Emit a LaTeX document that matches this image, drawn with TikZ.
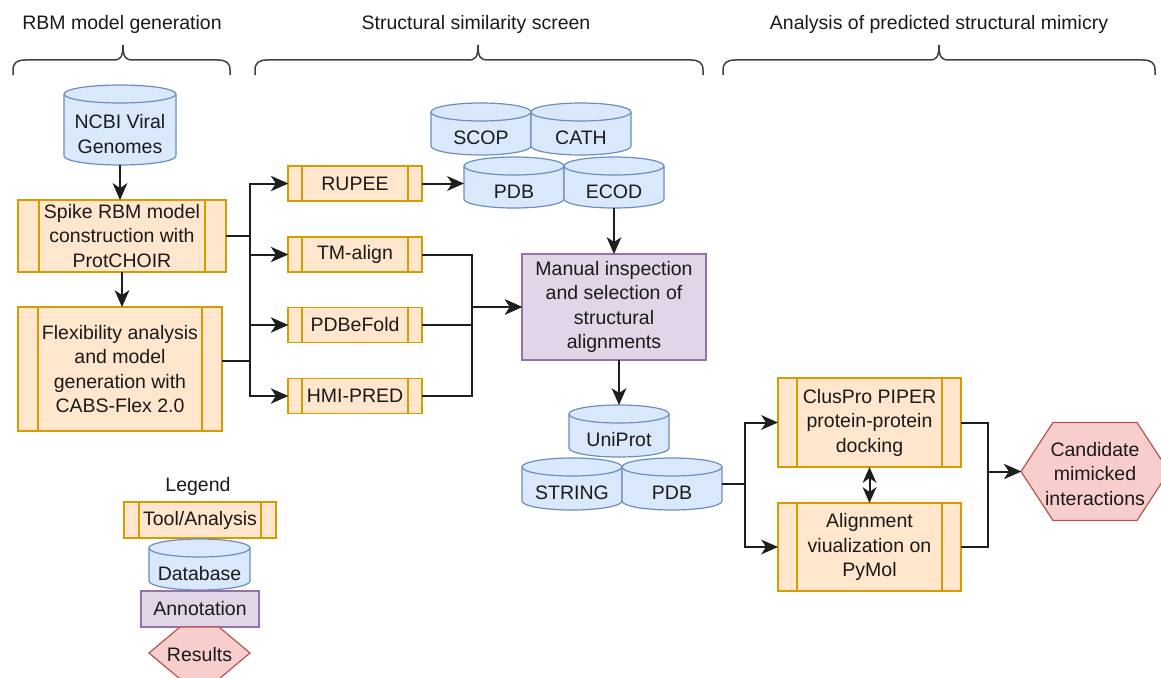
\documentclass[tikz,border=0pt]{standalone}
\usepackage{fontspec}
\setmainfont{Liberation Sans}
\usetikzlibrary{arrows.meta,calc}
\definecolor{tfill}{HTML}{FFE6CC}\definecolor{tdraw}{HTML}{D79B00}
\definecolor{dfill}{HTML}{DAE8FC}\definecolor{ddraw}{HTML}{6C8EBF}
\definecolor{afill}{HTML}{E1D5E7}\definecolor{adraw}{HTML}{9673A6}
\definecolor{rfill}{HTML}{F8CECC}\definecolor{rdraw}{HTML}{B85450}
\definecolor{txt}{HTML}{1A1A1A}
\definecolor{lnc}{HTML}{1E1E1E}
\tikzset{barw/.store in=\mybarw, barw=14}
\newcommand\dbcyl[6]{%
  \pgfmathsetmacro\cx{(#2+#4)/2}%
  \pgfmathsetmacro\cy{(#3+#5)/2}%
  \pgfmathsetmacro\rx{(#4-#2)/2}%
  \pgfmathsetmacro\hh{#5-#3}%
  \path[fill=dfill,draw=ddraw,line width=1.2pt] (#2,#3+9) -- (#2,#5-9)
    arc[start angle=180,end angle=360,x radius=\rx pt,y radius=9pt] -- (#4,#3+9)
    arc[start angle=0,end angle=180,x radius=\rx pt,y radius=9pt] -- cycle;
  \draw[ddraw,line width=1.2pt] (#2,#3+9) arc[start angle=180,end angle=360,x radius=\rx pt,y radius=9pt];
  \node[minimum width=2*\rx pt,minimum height=\hh pt] (#1) at (\cx,\cy) {};
  \node (#1-t) at (\cx,\cy+9) {#6};
}
\newcommand\curlybr[3]{%
  \draw[bracestyle] (#1,75) -- (#1,70) .. controls (#1,63) and (#1+4,60) .. (#1+12,60)
    -- (#2-10,60) .. controls (#2-3,60) and (#2,58) .. (#2,45)
    .. controls (#2,58) and (#2+3,60) .. (#2+10,60)
    -- (#3-12,60) .. controls (#3-4,60) and (#3,63) .. (#3,70) -- (#3,75);
}
\begin{document}
\begin{tikzpicture}[x=1pt,y=-1pt,
  font=\fontsize{19.5}{24.5}\selectfont,
  every node/.style={inner sep=0pt,outer sep=0pt,align=center,text=txt},
  toolbox/.style={rectangle,draw=tdraw,fill=tfill,line width=1.2pt,
    path picture={
      \draw[tdraw,line width=1.2pt] ([xshift=\mybarw pt]path picture bounding box.north west) -- ([xshift=\mybarw pt]path picture bounding box.south west);
      \draw[tdraw,line width=1.2pt] ([xshift=-\mybarw pt]path picture bounding box.north east) -- ([xshift=-\mybarw pt]path picture bounding box.south east);
    }},
  annot/.style={rectangle,draw=adraw,fill=afill,line width=1.2pt},
  resshape/.style={fill=rfill,draw=rdraw,line width=1.2pt},
  bracestyle/.style={draw=lnc!85,line width=1.5pt},
  conn/.style={draw=lnc,line width=2pt,-{Stealth[length=17pt,width=15pt,inset=5pt,line width=0pt]}},
  dconn/.style={draw=lnc,line width=2pt,{Stealth[length=16pt,width=14pt,inset=5pt,line width=0pt]}-{Stealth[length=16pt,width=14pt,inset=5pt,line width=0pt]}}
]
\useasboundingbox (0,0) rectangle (1161,677);
\clip (0,0) rectangle (1161,677);

% titles and braces
\node (t1) at (122,24) {RBM model generation};
\node (t2) at (476,24) {Structural similarity screen};
\node (t3) at (939,24) {Analysis of predicted structural mimicry};
\curlybr{13}{123}{230}
\curlybr{255}{478}{703}
\curlybr{723}{939}{1155}

% databases
\dbcyl{ncbi}{64}{85}{176}{165}{NCBI Viral\\Genomes}
\dbcyl{scop}{431}{103}{531}{155}{SCOP}
\dbcyl{cath}{531}{103}{631}{155}{CATH}
\dbcyl{pdb}{464}{157}{564}{208}{PDB}
\dbcyl{ecod}{564}{157}{664}{208}{ECOD}
\dbcyl{uniprot}{569}{405}{669}{457}{UniProt}
\dbcyl{string}{522}{458}{622}{510}{STRING}
\dbcyl{pdbb}{622}{458}{722}{510}{PDB}

% tools
\node[toolbox,barw=21,minimum width=208pt,minimum height=72pt] (spike) at (122,236) {Spike RBM model\\construction with\\ProtCHOIR};
\node[toolbox,barw=20,minimum width=204pt,minimum height=124pt] (flex) at (120,369) {Flexibility analysis\\and model\\generation with\\CABS-Flex 2.0};
\node[toolbox,minimum width=134pt,minimum height=35pt] (rupee) at (355,183.5) {RUPEE};
\node[toolbox,minimum width=134pt,minimum height=35pt] (tm) at (355,254.5) {TM-align};
\node[toolbox,minimum width=134pt,minimum height=35pt] (pdbe) at (355,325) {PDBeFold};
\node[toolbox,minimum width=134pt,minimum height=35pt] (hmi) at (355,396) {HMI-PRED};
\node[annot,minimum width=184pt,minimum height=106pt] (manual) at (614,307) {Manual inspection\\and selection of\\structural\\alignments};
\node[toolbox,barw=19,minimum width=183pt,minimum height=89pt] (cluspro) at (869.5,422.5) {ClusPro PIPER\\protein-protein\\docking};
\node[toolbox,barw=19,minimum width=183pt,minimum height=88pt] (align) at (869.5,547) {Alignment\\viualization on\\PyMol};

% result hexagon
\path[resshape] (1021,471.5) -- (1053,422.5) -- (1137,422.5) -- (1169,471.5) -- (1137,520.5) -- (1053,520.5) -- cycle;
\node[minimum width=148pt,minimum height=98pt] (hex) at (1095,471.5) {};
\node (hex-t) at (1095,474) {Candidate\\mimicked\\interactions};

% connectors
\coordinate (j1) at (250,0);
\coordinate (j2) at (472,0);
\coordinate (j3) at (745,0);
\coordinate (j4) at (988,0);
\draw[conn] (ncbi.south) -- (spike.north -| ncbi.south);
\draw[conn] (spike.south) -- (flex.north -| spike.south);
\foreach \t in {rupee,tm,pdbe,hmi}{
  \draw[conn] (spike.east) -- (spike.east -| j1) |- (\t.west);
  \draw[conn] ([yshift=8pt]flex.east) -- ([yshift=8pt]flex.east -| j1) |- (\t.west);
}
\draw[conn] (rupee.east) -- (rupee.east -| pdb.west);
\foreach \t in {tm,pdbe,hmi}{
  \draw[conn] (\t.east) -- (\t.east -| j2) |- (manual.west);
}
\draw[conn] (ecod.south) -- (manual.north);
\draw[conn] (manual.south -| uniprot.north) -- (uniprot.north);
\draw[conn] (pdbb.east) -- (pdbb.east -| j3) |- (cluspro.west);
\draw[conn] (pdbb.east) -- (pdbb.east -| j3) |- (align.west);
\draw[dconn] (cluspro.south) -- (align.north);
\draw[conn] (cluspro.east) -- (cluspro.east -| j4) |- (hex.west);
\draw[conn] (align.east) -- (align.east -| j4) |- (hex.west);

% legend
\node (legend) at (198,486) {Legend};
\node[toolbox,barw=15,minimum width=152pt,minimum height=36pt] (lgtool) at (200,520) {Tool/Analysis};
\dbcyl{lgdb}{149}{539}{250}{590}{Database}
\node[annot,minimum width=118pt,minimum height=36pt] (lgannot) at (200,609) {Annotation};
\path[resshape] (149,653) -- (180,627) -- (219,627) -- (250,653) -- (219,679) -- (180,679) -- cycle;
\node[minimum width=101pt,minimum height=52pt] (lgres) at (199.5,653) {};
\node (lgres-t) at (199.5,655) {Results};
\end{tikzpicture}
\end{document}
